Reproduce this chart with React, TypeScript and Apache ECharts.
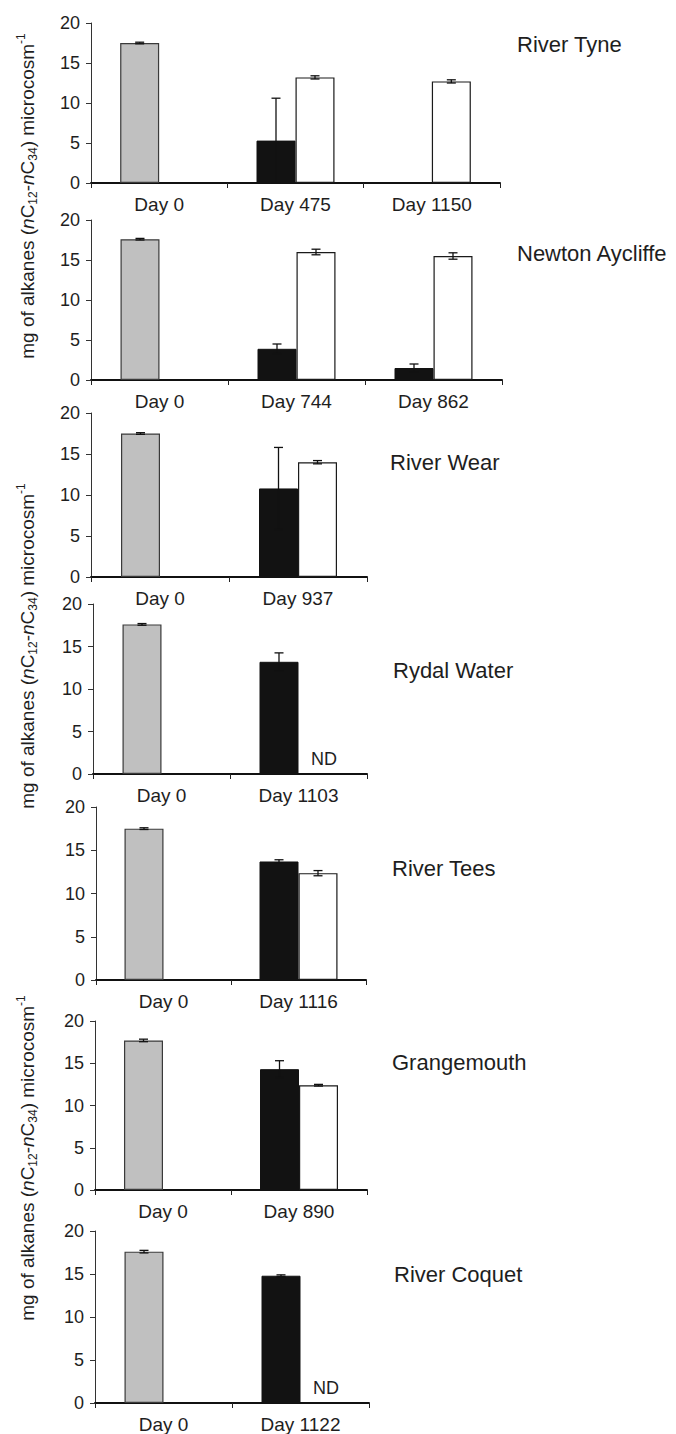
import React, { useEffect, useRef } from "react";
import * as echarts from "echarts";

// ---- data ----
const siteNames = ["River Tyne", "Newton Aycliffe", "River Wear", "Rydal Water", "River Tees", "Grangemouth", "River Coquet"];

const tyneDays = ["Day 0", "Day 475", "Day 1150"];
const tyneDark = [17.5, 5.3, null];
const tyneDarkErr = [0.1, 5.3, null];
const tyneWhite = [null, 13.2, 12.7];
const tyneWhiteErr = [null, 0.2, 0.2];

const newtonDays = ["Day 0", "Day 744", "Day 862"];
const newtonDark = [17.6, 3.9, 1.5];
const newtonDarkErr = [0.1, 0.6, 0.5];
const newtonWhite = [null, 16.0, 15.5];
const newtonWhiteErr = [null, 0.35, 0.4];

const wearDays = ["Day 0", "Day 937"];
const wearDark = [17.5, 10.8];
const wearDarkErr = [0.1, 5.0];
const wearWhite = [null, 14.0];
const wearWhiteErr = [null, 0.2];

const rydalDays = ["Day 0", "Day 1103"];
const rydalDark = [17.6, 13.2];
const rydalDarkErr = [0.1, 1.05];
const rydalWhite = [null, "ND"];
const rydalWhiteErr = [null, null];

const teesDays = ["Day 0", "Day 1116"];
const teesDark = [17.5, 13.7];
const teesDarkErr = [0.1, 0.2];
const teesWhite = [null, 12.35];
const teesWhiteErr = [null, 0.3];

const grangeDays = ["Day 0", "Day 890"];
const grangeDark = [17.7, 14.3];
const grangeDarkErr = [0.15, 1.0];
const grangeWhite = [null, 12.4];
const grangeWhiteErr = [null, 0.1];

const coquetDays = ["Day 0", "Day 1122"];
const coquetDark = [17.6, 14.8];
const coquetDarkErr = [0.15, 0.1];
const coquetWhite = [null, "ND"];
const coquetWhiteErr = [null, null];

const yTicks = [0, 5, 10, 15, 20];

// ---- layout (positions/sizes only) ----
const grids = [
  { left: 91, right: 500, top: 23, bottom: 183 },
  { left: 91, right: 502, top: 220, bottom: 380 },
  { left: 91, right: 367, top: 413, bottom: 577 },
  { left: 93, right: 367, top: 604, bottom: 774 },
  { left: 96, right: 366, top: 807, bottom: 980 },
  { left: 95, right: 367, top: 1021, bottom: 1190 },
  { left: 95, right: 369, top: 1231, bottom: 1403 },
];
const siteLabelPos = [
  [517, 44], [517, 253], [390, 462], [393, 670], [392, 868], [392, 1062], [394, 1274],
];
const yTitleCenters = [[27, 196], [27, 646], [27, 1158]];

const W = 676, H = 1434;
const BW = 39;
const FONT = "Liberation Sans, Arial, sans-serif";

const panels = [
  [tyneDays, tyneDark, tyneDarkErr, tyneWhite, tyneWhiteErr],
  [newtonDays, newtonDark, newtonDarkErr, newtonWhite, newtonWhiteErr],
  [wearDays, wearDark, wearDarkErr, wearWhite, wearWhiteErr],
  [rydalDays, rydalDark, rydalDarkErr, rydalWhite, rydalWhiteErr],
  [teesDays, teesDark, teesDarkErr, teesWhite, teesWhiteErr],
  [grangeDays, grangeDark, grangeDarkErr, grangeWhite, grangeWhiteErr],
  [coquetDays, coquetDark, coquetDarkErr, coquetWhite, coquetWhiteErr],
];

function buildOption() {
  const grid: any[] = [];
  const xAxis: any[] = [];
  const yAxis: any[] = [];
  const series: any[] = [];

  panels.forEach((p: any[], i) => {
    const [days, dark, darkErr, white, whiteErr] = p;
    const g = grids[i];
    grid.push({ left: g.left, top: g.top, width: g.right - g.left, height: g.bottom - g.top });
    xAxis.push({
      type: "category",
      gridIndex: i,
      data: days,
      axisLine: { show: true, lineStyle: { color: "#111", width: 2 } },
      axisTick: { show: true, length: 5, lineStyle: { color: "#222", width: 1 } },
      axisLabel: { fontSize: 19, color: "#1e1e1e", margin: 12, fontFamily: FONT },
    });
    yAxis.push({
      type: "value",
      gridIndex: i,
      min: yTicks[0],
      max: yTicks[yTicks.length - 1],
      interval: yTicks[1] - yTicks[0],
      splitLine: { show: false },
      axisLine: { show: true, lineStyle: { color: "#333", width: 1 } },
      axisTick: { show: true, length: 5, lineStyle: { color: "#333", width: 1 } },
      axisLabel: { fontSize: 18, color: "#1e1e1e", margin: 11, fontFamily: FONT },
    });
    series.push({
      type: "bar",
      xAxisIndex: i,
      yAxisIndex: i,
      barWidth: BW,
      barGap: "0%",
      data: dark.map((v: any, k: number) =>
        v == null
          ? null
          : {
              value: v,
              itemStyle:
                k === 0
                  ? { color: "#c0c0c0", borderColor: "#3a3a3a", borderWidth: 1.2 }
                  : { color: "#121212", borderColor: "#121212", borderWidth: 1 },
            }
      ),
    });
    series.push({
      type: "bar",
      xAxisIndex: i,
      yAxisIndex: i,
      barWidth: BW,
      barGap: "0%",
      data: white.map((v: any) =>
        v == null
          ? null
          : v === "ND"
          ? {
              value: 0,
              itemStyle: { color: "rgba(0,0,0,0)", borderWidth: 0 },
              label: {
                show: true,
                position: "top",
                formatter: "ND",
                distance: 6,
                offset: [6, 0],
                fontSize: 18,
                color: "#1e1e1e",
                fontFamily: FONT,
              },
            }
          : { value: v, itemStyle: { color: "#ffffff", borderColor: "#1a1a1a", borderWidth: 1.2 } }
      ),
    });
    const errData: any[] = [];
    dark.forEach((v: any, k: number) => {
      if (v != null && darkErr[k] != null) errData.push([k, v, darkErr[k], -1]);
    });
    white.forEach((v: any, k: number) => {
      if (typeof v === "number" && whiteErr[k] != null) errData.push([k, v, whiteErr[k], 1]);
    });
    series.push({
      type: "custom",
      xAxisIndex: i,
      yAxisIndex: i,
      z: 10,
      encode: { x: 0, y: 1 },
      data: errData,
      renderItem: (params: any, api: any) => {
        const cat = api.value(0);
        const v = api.value(1);
        const e = api.value(2);
        const side = api.value(3);
        const top = api.coord([cat, v + e]);
        const bot = api.coord([cat, Math.max(0, v - e)]);
        const x = top[0] + (side * BW) / 2;
        const st = { stroke: "#111", lineWidth: 1.3 };
        return {
          type: "group",
          children: [
            { type: "line", shape: { x1: x, y1: top[1], x2: x, y2: bot[1] }, style: st },
            { type: "line", shape: { x1: x - 4.5, y1: top[1], x2: x + 4.5, y2: top[1] }, style: st },
            { type: "line", shape: { x1: x - 4.5, y1: bot[1], x2: x + 4.5, y2: bot[1] }, style: st },
          ],
        };
      },
    });
  });

  const graphic: any[] = [];
  siteNames.forEach((name, i) => {
    graphic.push({
      type: "text",
      x: siteLabelPos[i][0],
      y: siteLabelPos[i][1],
      style: {
        text: name,
        fontSize: 22,
        fontFamily: FONT,
        fill: "#1e1e1e",
        textAlign: "left",
        textVerticalAlign: "middle",
      },
    });
  });
  yTitleCenters.forEach((c) => {
    graphic.push({
      type: "text",
      x: c[0],
      y: c[1],
      rotation: Math.PI / 2,
      style: {
        text: "{n|mg of alkanes (}{i|n}{n|C}{s|12}{n|-}{i|n}{n|C}{s|34}{n|) microcosm}{p|-1}",
        textAlign: "center",
        textVerticalAlign: "middle",
        fill: "#1e1e1e",
        rich: {
          n: { fontSize: 19, fontFamily: FONT, fill: "#1e1e1e", lineHeight: 24, verticalAlign: "middle" },
          i: { fontSize: 19, fontFamily: FONT, fontStyle: "italic", fill: "#1e1e1e", lineHeight: 24, verticalAlign: "middle" },
          s: { fontSize: 12, fontFamily: FONT, fill: "#1e1e1e", lineHeight: 14, verticalAlign: "bottom" },
          p: { fontSize: 12, fontFamily: FONT, fill: "#1e1e1e", lineHeight: 14, verticalAlign: "top" },
        },
      },
    });
  });

  return {
    animation: false,
    backgroundColor: "#ffffff",
    grid,
    xAxis,
    yAxis,
    series,
    graphic,
  };
}

export default function App() {
  const ref = useRef<HTMLDivElement>(null);
  useEffect(() => {
    document.body.style.margin = "0";
    const chart = echarts.init(ref.current!, null, { renderer: "svg", width: W, height: H });
    chart.setOption(buildOption() as any);
    return () => chart.dispose();
  }, []);
  return <div ref={ref} style={{ width: W, height: H }} />;
}
